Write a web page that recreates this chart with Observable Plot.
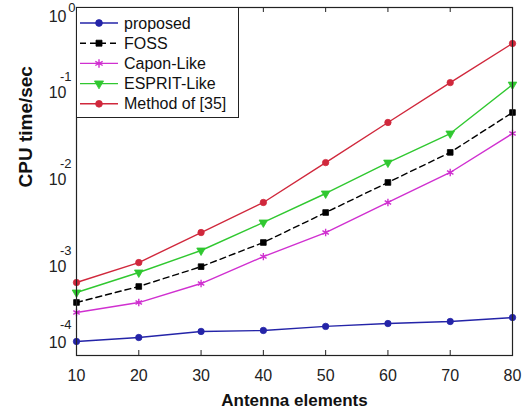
<!DOCTYPE html>
<html>
<head>
<meta charset="utf-8">
<script src="https://cdn.jsdelivr.net/npm/d3@7"></script>
<script src="https://cdn.jsdelivr.net/npm/@observablehq/plot@0.6"></script>
<style>
  body { margin: 0; background: #fff; }
  #wrap { position: relative; width: 531px; height: 417px; }
  #wrap svg { position: absolute; left: 0; top: 0; }
</style>
</head>
<body>
<div id="wrap"></div>
<script>
// ---- data ----
const elements = [10, 20, 30, 40, 50, 60, 70, 80];
const xTicks = [10, 20, 30, 40, 50, 60, 70, 80];
const yTickExponents = [0, -1, -2, -3, -4];
const seriesNames = ["proposed", "FOSS", "Capon-Like", "ESPRIT-Like", "Method of [35]"];
const proposed = [1.45e-4, 1.61e-4, 1.89e-4, 1.94e-4, 2.16e-4, 2.33e-4, 2.46e-4, 2.73e-4];
const foss     = [4.07e-4, 6.21e-4, 1.05e-3, 1.99e-3, 4.40e-3, 9.75e-3, 2.16e-2, 6.21e-2];
const capon    = [3.12e-4, 4.06e-4, 6.72e-4, 1.37e-3, 2.59e-3, 5.74e-3, 1.27e-2, 3.56e-2];
const esprit   = [5.30e-4, 9.00e-4, 1.61e-3, 3.38e-3, 7.28e-3, 1.65e-2, 3.56e-2, 0.130];
const method35 = [6.90e-4, 1.17e-3, 2.59e-3, 5.74e-3, 1.65e-2, 4.77e-2, 0.137, 0.386];
const xLabel = "Antenna elements";
const yLabel = "CPU time/sec";

// ---- styles ----
const seriesValues = [proposed, foss, capon, esprit, method35];
const styles = [
  {color: "#2424a8", symbol: "circle", fill: true, dash: null, rotate: 0},
  {color: "#000000", symbol: "square", fill: true, dash: "6,4", rotate: 0},
  {color: "#d030d0", symbol: "asterisk", fill: false, dash: null, rotate: 0},
  {color: "#30c830", symbol: "triangle", fill: true, dash: null, rotate: 180},
  {color: "#d0283c", symbol: "circle", fill: true, dash: null, rotate: 0}
];

const rows = [];
seriesNames.forEach((name, si) => {
  elements.forEach((e, i) => rows.push({series: name, si, x: e, y: seriesValues[si][i]}));
});

const FONT = "'Liberation Sans', Arial, Helvetica, sans-serif";
const lineMarks = [];
const dotMarks = [];
seriesNames.forEach((name, si) => {
  const st = styles[si];
  const data = rows.filter(r => r.si === si);
  lineMarks.push(Plot.line(data, {x: "x", y: "y", stroke: st.color, strokeWidth: 1.4,
    strokeDasharray: st.dash || undefined}));
  dotMarks.push(Plot.dot(data, {x: "x", y: "y", r: st.symbol === "asterisk" ? 3.5 : 3.2,
    symbol: () => st.symbol, rotate: st.rotate,
    fill: st.fill ? st.color : "none", stroke: st.color, strokeWidth: st.fill ? 0.8 : 1.4}));
});

const top0 = yTickExponents.filter(e => e === 0);
const mid = yTickExponents.filter(e => e < 0 && e > -4);
const bot = yTickExponents.filter(e => e === -4);
function yLab(arr, dyBase, dyExp, dxExp) {
  return [
    Plot.text(arr, {y: d => Math.pow(10, d), frameAnchor: "left", text: () => "10",
      textAnchor: "end", dx: -10, dy: dyBase, fontSize: 16, fill: "#222"}),
    Plot.text(arr, {y: d => Math.pow(10, d), frameAnchor: "left", text: d => String(d),
      textAnchor: "end", dx: dxExp, dy: dyExp, fontSize: 13, fill: "#222"})
  ];
}

const chart = Plot.plot({
  width: 531,
  height: 417,
  marginLeft: 76,
  marginRight: 19,
  marginTop: 7,
  marginBottom: 62,
  style: {fontFamily: FONT, fontSize: "16px", background: "white", overflow: "visible"},
  x: {domain: [10, 80]},
  y: {type: "log", domain: [1e-4, 1], axis: null},
  marks: [
    ...lineMarks,
    ...dotMarks,
    Plot.tickX(xTicks, {x: d => d, insetTop: 343, stroke: "#222"}),
    Plot.tickX(xTicks, {x: d => d, insetBottom: 343, stroke: "#222"}),
    Plot.axisX({ticks: xTicks, tickSize: 0, tickPadding: 14, label: null, fontSize: 16, fill: "#222"}),
    ...yLab(top0, 9, 0, -1),
    ...yLab(mid, -2, -18, -5),
    ...yLab(bot, -13, -31, -5),
    Plot.text([xLabel], {frameAnchor: "bottom", text: d => d, dy: 50, fontSize: 17, fontWeight: "bold", fill: "#111"}),
    Plot.text([yLabel], {frameAnchor: "left", text: d => d, rotate: -90, dx: -51, dy: 6, fontSize: 19, fontWeight: "bold", fill: "#111"}),
    Plot.frame({stroke: "#222", strokeWidth: 1.2})
  ]
});
document.getElementById("wrap").appendChild(chart);

// ---- legend overlay ----
const svg = d3.select("#wrap").append("svg")
  .attr("width", 531).attr("height", 417)
  .style("pointer-events", "none")
  .style("font-family", FONT);
const lg = {x: 76.5, y: 7.5, w: 162, h: 110, rowY0: 23, rowStep: 20.2};
svg.append("rect").attr("x", lg.x).attr("y", lg.y).attr("width", lg.w).attr("height", lg.h)
  .attr("fill", "white").attr("stroke", "#222").attr("stroke-width", 1);
const symMap = {circle: d3.symbolCircle, square: d3.symbolSquare, asterisk: d3.symbolAsterisk, triangle: d3.symbolTriangle};
seriesNames.forEach((name, i) => {
  const st = styles[i];
  const yy = lg.rowY0 + i * lg.rowStep;
  svg.append("line").attr("x1", 80).attr("x2", 118).attr("y1", yy).attr("y2", yy)
    .attr("stroke", st.color).attr("stroke-width", 1.4)
    .attr("stroke-dasharray", st.dash);
  svg.append("path").attr("d", d3.symbol(symMap[st.symbol], st.symbol === "asterisk" ? 50 : 36)())
    .attr("transform", `translate(99,${yy}) rotate(${st.rotate})`)
    .attr("fill", st.fill ? st.color : "none").attr("stroke", st.color)
    .attr("stroke-width", st.fill ? 0.8 : 1.4);
  svg.append("text").attr("x", 124).attr("y", yy).attr("dy", "0.35em")
    .attr("font-size", 16).attr("fill", "#111").text(name);
});
</script>
</body>
</html>
